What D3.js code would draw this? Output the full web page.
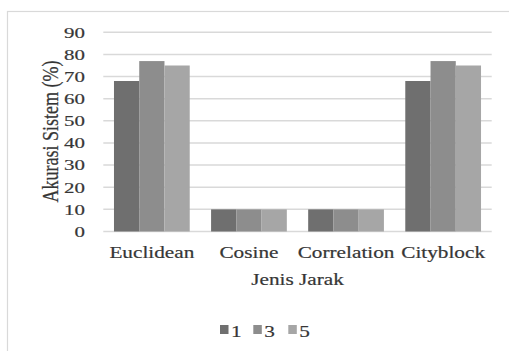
<!DOCTYPE html>
<html>
<head>
<meta charset="utf-8">
<script src="https://cdn.jsdelivr.net/npm/d3@7"></script>
<style>
  html, body { margin: 0; padding: 0; background: #fff; }
  svg { display: block; }
</style>
</head>
<body>
<script>
// Accuracy (%) per distance metric, for k = 1, 3, 5
const categories = ["Euclidean", "Cosine", "Correlation", "Cityblock"];
const seriesNames = ["1", "3", "5"];
const k1 = [68, 10, 10, 68];
const k3 = [77, 10, 10, 77];
const k5 = [75, 10, 10, 75];
const yTicks = [0, 10, 20, 30, 40, 50, 60, 70, 80, 90];
const colors = ["#6f6f6f", "#8d8d8d", "#a6a6a6"];
const xTitle = "Jenis Jarak";
const yTitle = "Akurasi Sistem (%)";

const seriesValues = [k1, k3, k5];
const W = 509, H = 351;
const plot = { left: 103.3, right: 491.7, top: 32.3, bottom: 231.5 };
const stretch = 1.25; // horizontal widening of glyphs
const serif = "'Liberation Serif', 'Times New Roman', Times, serif";
const ink = "#363636";

const svg = d3.select("body").append("svg")
  .attr("width", W).attr("height", H)
  .attr("font-family", serif);

function styleText(sel, size) {
  return sel.attr("font-family", serif)
    .attr("font-size", size)
    .attr("fill", ink)
    .attr("stroke", ink)
    .attr("stroke-width", 0.2);
}

// outer chart frame
svg.append("rect")
  .attr("x", 7.5).attr("y", 11.5)
  .attr("width", 540).attr("height", 380)
  .attr("fill", "#fff").attr("stroke", "#d9d9d9").attr("stroke-width", 1.2);

const x = d3.scaleBand()
  .domain(categories)
  .range([plot.left, plot.right])
  .paddingInner(0.22).paddingOuter(0.11);

const xs = d3.scaleBand()
  .domain(seriesNames)
  .range([0, x.bandwidth()]);

const y = d3.scaleLinear()
  .domain([0, 90])
  .range([plot.bottom, plot.top]);

// horizontal gridlines
svg.append("g").selectAll("line")
  .data(yTicks)
  .join("line")
  .attr("x1", plot.left).attr("x2", plot.right)
  .attr("y1", d => y(d)).attr("y2", d => y(d))
  .attr("stroke", "#d9d9d9").attr("stroke-width", 1.5);

// y tick labels
styleText(svg.append("g").selectAll("text")
  .data(yTicks)
  .join("text"), 15.5)
  .attr("transform", d => `translate(85,${y(d) + 5.3}) scale(1.35,1)`)
  .attr("text-anchor", "end")
  .text(d => d);

// bars
const rows = categories.map((c, i) => ({ cat: c, vals: seriesNames.map((s, j) => ({ s, j, v: seriesValues[j][i] })) }));
svg.append("g").selectAll("g")
  .data(rows)
  .join("g")
  .attr("transform", d => `translate(${x(d.cat)},0)`)
  .selectAll("rect")
  .data(d => d.vals)
  .join("rect")
  .attr("x", d => xs(d.s))
  .attr("width", xs.bandwidth())
  .attr("y", d => y(d.v))
  .attr("height", d => y(0) - y(d.v))
  .attr("fill", d => colors[d.j]);

// category labels
styleText(svg.append("g").selectAll("text")
  .data(categories)
  .join("text"), 17)
  .attr("transform", d => `translate(${x(d) + x.bandwidth() / 2},258) scale(${stretch},1)`)
  .attr("text-anchor", "middle")
  .text(d => d);

// axis titles
styleText(svg.append("text"), 17)
  .attr("transform", `translate(${(plot.left + plot.right) / 2},285) scale(${stretch},1)`)
  .attr("text-anchor", "middle")
  .text(xTitle);

styleText(svg.append("text"), 18)
  .attr("transform", `translate(58,131.5) rotate(-90) scale(1,1.28)`)
  .attr("text-anchor", "middle")
  .text(yTitle);

// legend
const legendX = [220, 253.3, 288.3];
const legend = svg.append("g").selectAll("g")
  .data(seriesNames)
  .join("g")
  .attr("transform", (d, i) => `translate(${legendX[i]},0)`);
legend.append("rect")
  .attr("x", 0).attr("y", 325)
  .attr("width", 8.5).attr("height", 9)
  .attr("fill", (d, i) => colors[i]);
styleText(legend.append("text"), 17)
  .attr("transform", `translate(11,336.5) scale(1.25,1)`)
  .text(d => d);
</script>
</body>
</html>
